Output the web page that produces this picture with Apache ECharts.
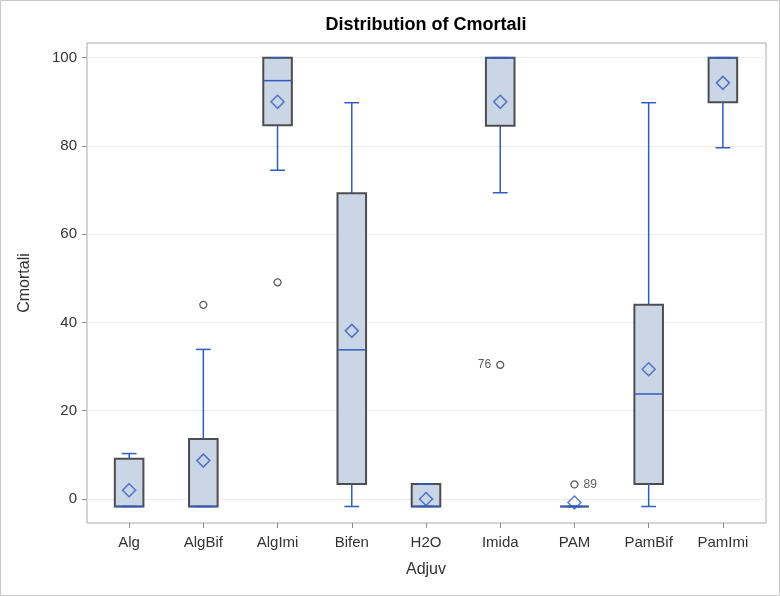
<!DOCTYPE html>
<html>
<head>
<meta charset="utf-8">
<script src="https://cdn.jsdelivr.net/npm/echarts@6/dist/echarts.min.js"></script>
<style>
html, body { margin: 0; padding: 0; background: #fff; }
#chart { width: 780px; height: 596px; }
</style>
</head>
<body>
<div id="chart"></div>
<script>
// data
var categories = ["Alg", "AlgBif", "AlgImi", "Bifen", "H2O", "Imida", "PAM", "PamBif", "PamImi"];
var whiskerLow  = [-1.7, -1.7, 74.5, -1.7, -1.7, 69.4, -1.7, -1.7, 79.6];
var q1          = [-1.7, -1.7, 84.7,  3.4, -1.7, 84.6, -1.7,  3.4, 89.9];
var median      = [-1.7, -1.7, 94.8, 33.8, -1.7, 100,  -1.7, 23.8, 100];
var q3          = [ 9.1, 13.6, 100,  69.3,  3.4, 100,  -1.7, 44.0, 100];
var whiskerHigh = [10.3, 33.9, 100,  89.8,  3.4, 100,  -1.7, 89.8, 100];
var means       = [ 2.0,  8.7, 90.0, 38.1,  0.0, 90.0, -0.8, 29.4, 94.3];
var outlierCat   = ["AlgBif", "AlgImi", "Imida", "PAM"];
var outlierVal   = [44.0, 49.1, 30.4, 3.3];
var outlierLabel = ["", "", "76", "89"];
var yMin = 0, yMax = 100, yStep = 20;

var blue = "#2f5cbf";
var font = "'Liberation Sans', Arial, sans-serif";

var boxData = [];
for (var i = 0; i < categories.length; i++) {
    boxData.push([i, whiskerLow[i], q1[i], median[i], q3[i], whiskerHigh[i]]);
}
var meanData = means.map(function (v, i) { return [i, v]; });

// which side the id label goes
var labelSide = { "Imida": "left" };
var outlierData = outlierVal.map(function (v, k) {
    var cat = outlierCat[k];
    return {
        value: [categories.indexOf(cat), v],
        label: {
            show: outlierLabel[k] !== "",
            formatter: outlierLabel[k],
            position: labelSide[cat] || "right",
            distance: 5,
            color: "#333",
            fontSize: 12
        }
    };
});

function renderBox(params, api) {
    var idx = api.value(0);
    var band = api.size([1, 0])[0];
    var boxW = band * 0.385;
    var capW = band * 0.2;
    var x = api.coord([idx, api.value(1)])[0];
    var yLo = api.coord([idx, api.value(1)])[1];
    var yQ1 = api.coord([idx, api.value(2)])[1];
    var yMed = api.coord([idx, api.value(3)])[1];
    var yQ3 = api.coord([idx, api.value(4)])[1];
    var yHi = api.coord([idx, api.value(5)])[1];
    var ls = { stroke: blue, lineWidth: 1.5 };
    return {
        type: "group",
        children: [
            { type: "rect", shape: { x: x - boxW / 2, y: yQ3, width: boxW, height: yQ1 - yQ3 },
              style: { fill: "#cad5e6", stroke: "#4d4d4d", lineWidth: 2 } },
            { type: "line", shape: { x1: x, y1: yQ3, x2: x, y2: yHi }, style: ls },
            { type: "line", shape: { x1: x, y1: yQ1, x2: x, y2: yLo }, style: ls },
            { type: "line", shape: { x1: x - capW / 2, y1: yHi, x2: x + capW / 2, y2: yHi }, style: ls },
            { type: "line", shape: { x1: x - capW / 2, y1: yLo, x2: x + capW / 2, y2: yLo }, style: ls },
            { type: "line", shape: { x1: x - boxW / 2, y1: yMed, x2: x + boxW / 2, y2: yMed }, style: ls }
        ]
    };
}

var option = {
    animation: false,
    textStyle: { fontFamily: font },
    title: {
        text: "Distribution of Cmortali",
        left: 426,
        top: 16,
        padding: 0,
        textAlign: "center",
        textStyle: { fontSize: 18, fontWeight: "bold", color: "#000", fontFamily: font }
    },
    graphic: [{
        type: "rect", x: 0.5, y: 0.5,
        shape: { width: 779, height: 595 },
        style: { fill: "none", stroke: "#c8c8c8", lineWidth: 1 },
        silent: true
    }],
    grid: [
        // plot area for the marks (0..100 mapped)
        { left: 92, right: 20, top: 57.7, bottom: 97 },
        // outer frame
        { left: 87, right: 14, top: 43, bottom: 73, show: true, borderColor: "#a9a9a9", borderWidth: 1, backgroundColor: "transparent" },
        // y labels and grid lines
        { left: 87, right: 14, top: 57.7, bottom: 97 },
        // x labels on the frame bottom
        { left: 92, right: 20, top: 43, bottom: 73 }
    ],
    xAxis: [
        { gridIndex: 0, type: "category", data: categories, show: false },
        { gridIndex: 1, type: "value", show: false },
        { gridIndex: 2, type: "value", show: false },
        {
            gridIndex: 3, type: "category", data: categories,
            axisLine: { show: false },
            axisTick: { show: true, alignWithLabel: true, length: 5, lineStyle: { color: "#8c8c8c" } },
            axisLabel: { color: "#333", fontSize: 15, margin: 12 },
            name: "Adjuv", nameLocation: "middle", nameGap: 39,
            nameTextStyle: { color: "#333", fontSize: 16 }
        }
    ],
    yAxis: [
        { gridIndex: 0, type: "value", min: yMin, max: yMax, interval: yStep, show: false },
        {
            gridIndex: 1, type: "value",
            axisLine: { show: false }, axisTick: { show: false },
            axisLabel: { show: false }, splitLine: { show: false },
            name: "Cmortali", nameLocation: "middle", nameGap: 54,
            nameTextStyle: { color: "#333", fontSize: 16 }
        },
        {
            gridIndex: 2, type: "value", min: yMin, max: yMax, interval: yStep,
            axisLine: { show: false },
            axisTick: { show: true, length: 5, lineStyle: { color: "#8c8c8c" } },
            axisLabel: { color: "#333", fontSize: 15, margin: 10 },
            splitLine: { show: true, lineStyle: { color: "#ececec", width: 1 } }
        },
        { gridIndex: 3, type: "value", show: false }
    ],
    series: [
        {
            type: "custom",
            xAxisIndex: 0, yAxisIndex: 0,
            renderItem: renderBox,
            encode: { x: 0, y: [1, 2, 3, 4, 5] },
            data: boxData,
            clip: false,
            silent: true,
            z: 2
        },
        {
            type: "scatter",
            xAxisIndex: 0, yAxisIndex: 0,
            symbol: "diamond",
            symbolSize: 13,
            data: meanData,
            itemStyle: { color: "rgba(0,0,0,0)", borderColor: blue, borderWidth: 1.5 },
            clip: false,
            silent: true,
            z: 3
        },
        {
            type: "scatter",
            xAxisIndex: 0, yAxisIndex: 0,
            symbol: "circle",
            symbolSize: 7,
            data: outlierData,
            itemStyle: { color: "rgba(0,0,0,0)", borderColor: "#333", borderWidth: 1.3 },
            clip: false,
            silent: true,
            z: 3
        }
    ]
};

var myChart = echarts.init(document.getElementById("chart"));
myChart.setOption(option);
</script>
</body>
</html>
